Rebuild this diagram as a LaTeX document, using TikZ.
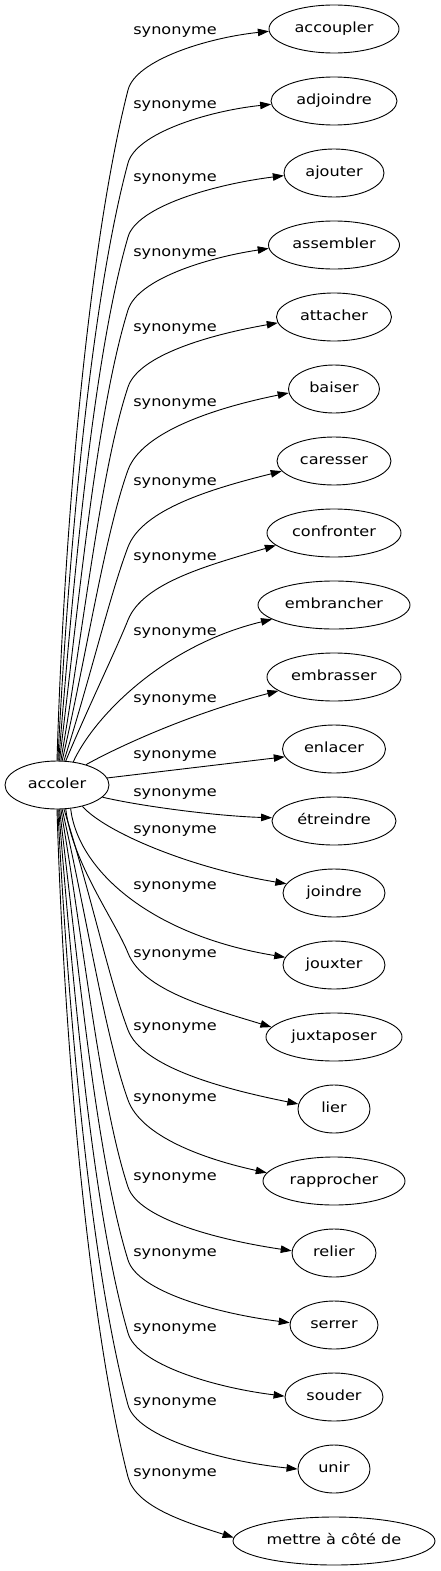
\documentclass[tikz,border=0pt]{standalone}
\usepackage{fontspec}
\setmainfont{DejaVu Sans}[FakeStretch=1.15]
\usetikzlibrary{shapes.geometric,arrows.meta}
\begin{document}
\begin{tikzpicture}[x=1pt,y=-1pt,
  word/.style={ellipse,draw,line width=0.9pt,inner sep=0pt,minimum height=48pt,
    font=\fontsize{14}{17}\selectfont,text height=10.2pt,text depth=3.3pt},
  lab/.style={font=\fontsize{14}{17}\selectfont,anchor=base,inner sep=0pt},
  edge/.style={line width=0.9pt,-{Triangle[length=11pt,width=7.5pt]}}]
\useasboundingbox (0,0) rectangle (440,1571);
% nodes
\node[word,minimum width=104pt] (acc) at (57,785) {accoler};
\node[word,minimum width=130pt] (n0)  at (334,29)   {accoupler};
\node[word,minimum width=126pt] (n1)  at (334,101)  {adjoindre};
\node[word,minimum width=100pt] (n2)  at (334,173)  {ajouter};
\node[word,minimum width=131pt] (n3)  at (334,245)  {assembler};
\node[word,minimum width=115pt] (n4)  at (334,317)  {attacher};
\node[word,minimum width=91pt]  (n5)  at (334,389)  {baiser};
\node[word,minimum width=114pt] (n6)  at (334,461)  {caresser};
\node[word,minimum width=134pt] (n7)  at (334,533)  {confronter};
\node[word,minimum width=152pt] (n8)  at (334,605)  {embrancher};
\node[word,minimum width=134pt] (n9)  at (334,677)  {embrasser};
\node[word,minimum width=103pt] (n10) at (334,749)  {enlacer};
\node[word,minimum width=124pt] (n11) at (334,821)  {étreindre};
\node[word,minimum width=102pt] (n12) at (334,893)  {joindre};
\node[word,minimum width=102pt] (n13) at (334,965)  {jouxter};
\node[word,minimum width=136pt] (n14) at (334,1037) {juxtaposer};
\node[word,minimum width=72pt]  (n15) at (334,1109) {lier};
\node[word,minimum width=142pt] (n16) at (334,1181) {rapprocher};
\node[word,minimum width=84pt]  (n17) at (334,1253) {relier};
\node[word,minimum width=88pt]  (n18) at (334,1325) {serrer};
\node[word,minimum width=98pt]  (n19) at (334,1397) {souder};
\node[word,minimum width=72pt]  (n20) at (334,1469) {unir};
\node[word,minimum width=202pt] (n21) at (334,1541) {mettre à côté de};
% edges
\draw[edge] (acc.90) .. controls (64.4,513) and (90.3,238) .. (128,90) .. controls (135.5,60.5) and (205.7,38) .. (n0.182);
\draw[edge] (acc.88) .. controls (68.9,540) and (92.4,295) .. (128,163) .. controls (136,133.5) and (206.9,111.1) .. (n1.183);
\draw[edge] (acc.86) .. controls (74.2,567) and (94.6,352) .. (128,237) .. controls (136.8,206.5) and (214,184.4) .. (n2.183.5);
\draw[edge] (acc.84) .. controls (79.5,594) and (97.3,409) .. (128,310) .. controls (137.5,279.5) and (205.8,257.9) .. (n3.183.5);
\draw[edge] (acc.81) .. controls (84.3,623) and (100.9,469) .. (128,387) .. controls (138.6,355) and (210.7,334.5) .. (n4.186);
\draw[edge] (acc.78) .. controls (86.9,653) and (105,534) .. (128,470) .. controls (141.9,431.5) and (216.6,407.5) .. (n5.185);
\draw[edge] (acc.74) .. controls (89.1,682) and (110.1,594) .. (128,547) .. controls (142.4,509) and (212.8,488.4) .. (n6.191);
\draw[edge] (acc.70) .. controls (87.4,709) and (115.6,651) .. (128,620) .. controls (143,582.5) and (209.4,565) .. (n7.192);
\draw[edge] (acc.55) .. controls (95,715) and (165,645) .. (n8.193);
\draw[edge] (acc.35) .. controls (112,750) and (185,715) .. (n9.194);
\draw[edge] (acc.8) -- (n10.189);
\draw[edge] (acc.345) .. controls (140,806) and (215,816) .. (n11.177);
\draw[edge] (acc.320) .. controls (105,832) and (190,868) .. (n12.169);
\draw[edge] (acc.300) .. controls (78,870) and (150,935) .. (n13.171);
\draw[edge] (acc.290) .. controls (72,862) and (115.2,921) .. (128,953) .. controls (142.8,990) and (207.3,1007.5) .. (n14.171);
\draw[edge] (acc.286) .. controls (90,891) and (109.4,981) .. (128,1030) .. controls (142.1,1067) and (221.9,1088.6) .. (n15.172);
\draw[edge] (acc.282) .. controls (86.9,917) and (105,1036) .. (128,1100) .. controls (141.1,1136.5) and (204.5,1159.2) .. (n16.173);
\draw[edge] (acc.279) .. controls (84.6,949) and (100.6,1104) .. (128,1187) .. controls (138.6,1219) and (218.3,1239.9) .. (n17.177);
\draw[edge] (acc.276) .. controls (79.5,976) and (97.3,1161) .. (128,1260) .. controls (137.8,1291.5) and (217.2,1313.5) .. (n18.177);
\draw[edge] (acc.274) .. controls (74.2,1003) and (94.6,1218) .. (128,1333) .. controls (137.1,1364.5) and (214.3,1387.5) .. (n19.179);
\draw[edge] (acc.272) .. controls (68.9,1030) and (92.6,1274) .. (128,1405) .. controls (136.6,1437) and (221.5,1461.4) .. (n20.180);
\draw[edge] (acc.270) .. controls (64.4,1056) and (90.5,1330) .. (128,1477) .. controls (135.7,1507) and (186.5,1522.6) .. (n21.178);
% labels
\node[lab] (l0)  at (175,35)   {synonyme};
\node[lab] (l1)  at (175,108)  {synonyme};
\node[lab] (l2)  at (175,181)  {synonyme};
\node[lab] (l3)  at (175,256)  {synonyme};
\node[lab] (l4)  at (175,331)  {synonyme};
\node[lab] (l5)  at (175,406)  {synonyme};
\node[lab] (l6)  at (175,485)  {synonyme};
\node[lab] (l7)  at (175,560)  {synonyme};
\node[lab] (l8)  at (175,635)  {synonyme};
\node[lab] (l9)  at (175,702)  {synonyme};
\node[lab] (l10) at (175,758)  {synonyme};
\node[lab] (l11) at (175,796)  {synonyme};
\node[lab] (l12) at (175,833)  {synonyme};
\node[lab] (l13) at (175,889)  {synonyme};
\node[lab] (l14) at (175,957)  {synonyme};
\node[lab] (l15) at (175,1030) {synonyme};
\node[lab] (l16) at (175,1101) {synonyme};
\node[lab] (l17) at (175,1180) {synonyme};
\node[lab] (l18) at (175,1256) {synonyme};
\node[lab] (l19) at (175,1331) {synonyme};
\node[lab] (l20) at (175,1405) {synonyme};
\node[lab] (l21) at (175,1476) {synonyme};
\end{tikzpicture}
\end{document}
